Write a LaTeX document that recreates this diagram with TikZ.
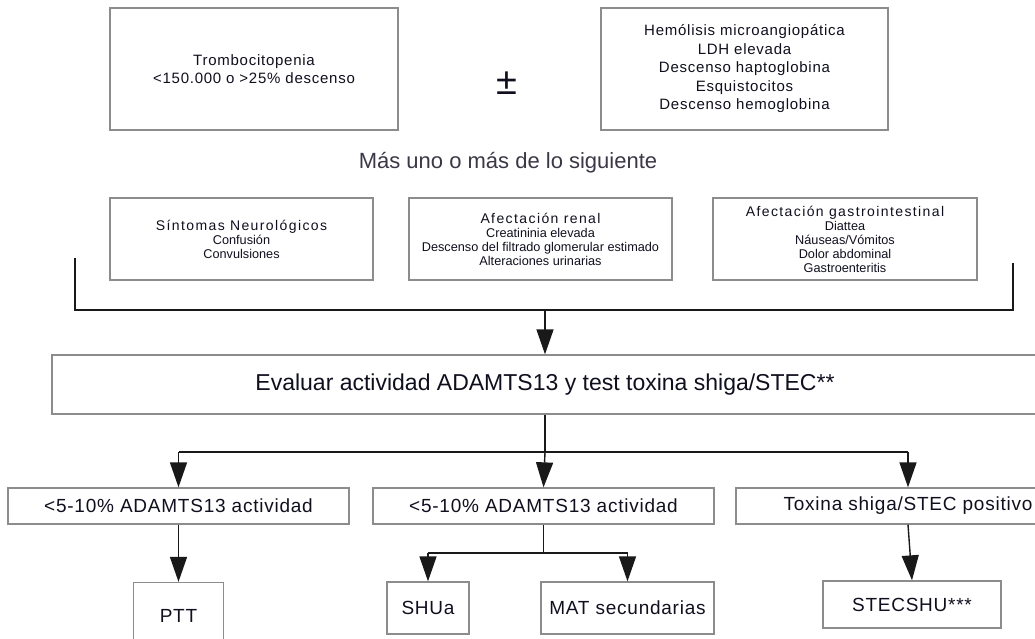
\documentclass[tikz,border=0pt]{standalone}
\usepackage{fontspec}
\setmainfont{Liberation Sans}
\newfontfamily\espaciada[LetterSpace=5]{Liberation Sans}
\newfontfamily\titfont[LetterSpace=10]{Liberation Sans}
\newfontfamily\cajafont[LetterSpace=4]{Liberation Sans}
\usepackage{tikz}
\usetikzlibrary{positioning, arrows.meta, calc}
\definecolor{borde}{RGB}{140,140,140}
\definecolor{tinta}{RGB}{15,15,30}
\definecolor{suave}{RGB}{60,55,70}

\begin{document}
\begin{tikzpicture}[x=1pt, y=-1pt,
    caja/.style={draw=borde, line width=1.3pt, inner sep=0pt, align=center, text=tinta},
    linea/.style={line width=1.4pt, draw=black!90},
    punta/.style={linea, -{Triangle[width=17pt, length=25pt]}}]
    \useasboundingbox (0,0) rectangle (1035,639);
    \clip (0,0) rectangle (1035,639);

    \node[caja, minimum width=288, minimum height=122, font=\espaciada\fontsize{15}{18.5}\selectfont]
        (trombo) at (254, 69) {Trombocitopenia\\<150.000 o >25\% descenso};
    \node[caja, minimum width=287, minimum height=122, font=\espaciada\fontsize{15}{18.5}\selectfont]
        (hemo) at (744.5, 69) {Hemólisis microangiopática\\LDH elevada\\Descenso haptoglobina\\Esquistocitos\\Descenso hemoglobina};
    \node[text=tinta, font=\fontsize{38}{38}\selectfont] (pm) at (507, 83) {±};
    \node[text=suave, font=\fontsize{22}{26}\selectfont] (mas) at (508, 163) {Más uno o más de lo siguiente};

    \node[caja, minimum width=263, minimum height=82, font=\fontsize{12.7}{14}\selectfont]
        (neuro) at (241.5, 239) {{\titfont\fontsize{14}{16}\selectfont Síntomas Neurológicos}\\Confusión\\Convulsiones};
    \node[caja, minimum width=263, minimum height=82, font=\fontsize{12.7}{14}\selectfont]
        (renal) at (540.5, 239) {{\titfont\fontsize{14}{16}\selectfont Afectación renal}\\Creatininia elevada\\Descenso del filtrado glomerular estimado\\Alteraciones urinarias};
    \node[caja, minimum width=264, minimum height=82, font=\fontsize{12.7}{14}\selectfont]
        (gastro) at (845, 239) {{\titfont\fontsize{14}{16}\selectfont Afectación gastrointestinal}\\Diattea\\Náuseas/Vómitos\\Dolor abdominal\\Gastroenteritis};

    \node[caja, minimum width=986, minimum height=59, font=\fontsize{23}{27}\selectfont]
        (eval) at (545, 384.5) {Evaluar actividad ADAMTS13 y test toxina shiga/STEC**};

    \node[caja, minimum width=341, minimum height=36, font=\cajafont\fontsize{19}{22}\selectfont]
        (bajoA) at (178.5, 506) {<5-10\% ADAMTS13 actividad};
    \node[caja, minimum width=341, minimum height=36, font=\cajafont\fontsize{19}{22}\selectfont]
        (bajoB) at (543.5, 506) {<5-10\% ADAMTS13 actividad};
    \node[caja, minimum width=344, minimum height=36, font=\cajafont\fontsize{19}{22}\selectfont]
        (toxina) at (908, 506) {Toxina shiga/STEC positivo};

    \node[caja, minimum width=90, minimum height=66, font=\cajafont\fontsize{19}{22}\selectfont]
        (ptt) at (178.5, 615.5) {PTT};
    \node[caja, minimum width=82, minimum height=52, font=\cajafont\fontsize{19}{22}\selectfont]
        (shua) at (428, 608) {SHUa};
    \node[caja, minimum width=173, minimum height=52, font=\cajafont\fontsize{19}{22}\selectfont]
        (mat) at (627.5, 608) {MAT secundarias};
    \node[caja, minimum width=178, minimum height=47, font=\cajafont\fontsize{19}{22}\selectfont]
        (stecshu) at (912, 604.5) {STECSHU***};

    % llave bajo los tres criterios
    \coordinate (ll1) at (75, 258);
    \coordinate (ll2) at (75, 310);
    \coordinate (ll3) at (1013, 310);
    \coordinate (ll4) at (1013, 263);
    \coordinate (llc) at (545, 310);
    \draw[linea] (ll1) -- (ll2) -- (ll3) -- (ll4);
    \draw[punta] (llc) -- (eval.north);

    % reparto a los tres resultados
    \coordinate (r0) at (545, 452);
    \coordinate (ra) at (178.5, 452);
    \coordinate (rc) at (908, 452);
    \draw[linea] (eval.south) -- (r0);
    \draw[linea] (ra) -- (rc);
    \draw
        (ra) edge[punta] (bajoA.north)
        (r0) edge[punta] (bajoB.north)
        (rc) edge[punta] (toxina.north)
        (bajoA.south) edge[punta] (ptt.north)
        (toxina.south) edge[punta] (stecshu.north)
        ;

    % rama de SHUa y MAT
    \coordinate (b0) at (543.5, 553);
    \coordinate (b1) at (428, 553);
    \coordinate (b2) at (627.5, 553);
    \draw[linea] (bajoB.south) -- (b0);
    \draw[linea] (b1) -- (b2);
    \draw
        (b1) edge[punta] (shua.north)
        (b2) edge[punta] (mat.north)
        ;
\end{tikzpicture}
\end{document}
